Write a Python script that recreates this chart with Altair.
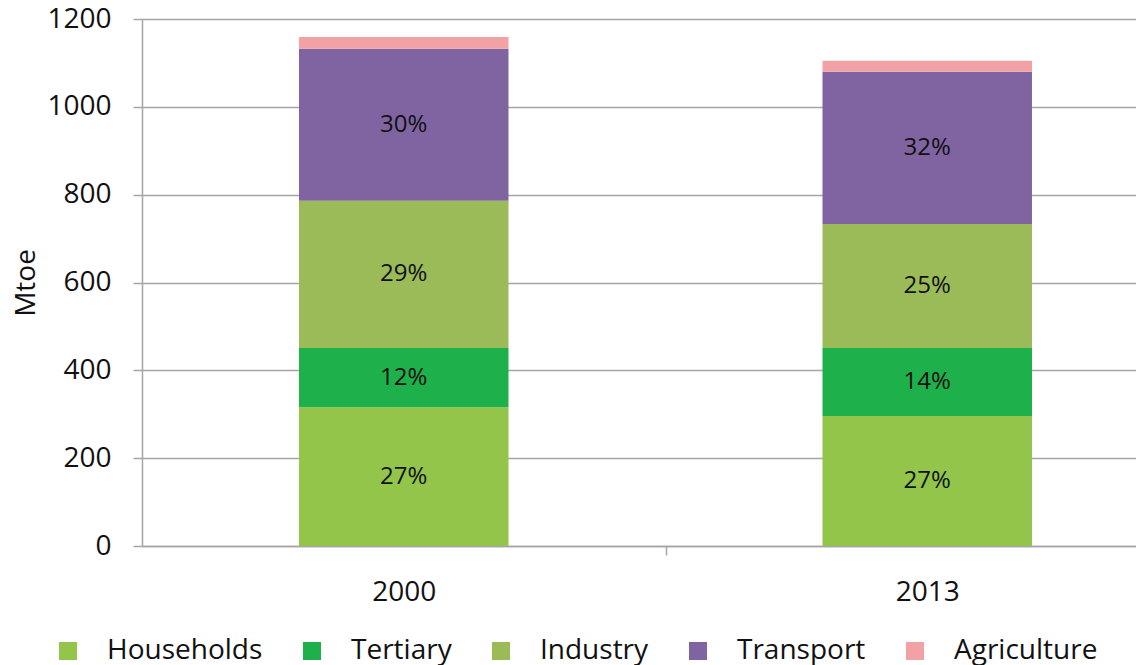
import altair as alt
import pandas as pd

years = ["2000", "2013"]
sectors = ["Households", "Tertiary", "Industry", "Transport", "Agriculture"]
households = [316, 296]
tertiary = [135, 155]
industry = [335, 282]
transport = [346, 347]
agriculture = [27, 25]
share_2000 = ["27%", "12%", "29%", "30%", ""]
share_2013 = ["27%", "14%", "25%", "32%", ""]
colors = ["#92C54A", "#1DB04B", "#9BBB59", "#8064A2", "#F2A1A5"]
y_ticks = [0, 200, 400, 600, 800, 1000, 1200]

series = [households, tertiary, industry, transport, agriculture]
shares = {"2000": share_2000, "2013": share_2013}
rows = []
for i, s in enumerate(sectors):
    for j, yr in enumerate(years):
        rows.append({"year": yr, "sector": s, "order": i,
                     "value": series[i][j], "share": shares[yr][i]})
df = pd.DataFrame(rows)

GRAY = "#A8A4A4"
TXT = "#111111"
FONT = "Open Sans"

base = alt.Chart(df).transform_stack(
    stack="value", groupby=["year"],
    sort=[alt.SortField("order", order="ascending")],
    as_=["v0", "v1"],
).transform_calculate(mid="(datum.v0 + datum.v1) / 2")

xenc = alt.X(
    "year:N", title=None, sort=years,
    scale=alt.Scale(paddingInner=0.5998, paddingOuter=0.2493, align=0.6015),
    axis=alt.Axis(labelFontSize=28, labelColor=TXT, labelAngle=0,
                  tickOffset=262, labelOffset=-262, tickSize=9,
                  tickColor=GRAY, tickWidth=1.5, domainColor=GRAY,
                  domainWidth=1.5, labelPadding=23, grid=False),
)

bars = base.mark_bar().encode(
    x=xenc,
    y=alt.Y("v0:Q", scale=alt.Scale(domain=[0, 1200]),
            axis=alt.Axis(values=y_ticks, format="d", title="Mtoe",
                          labelFontSize=28, labelColor=TXT, tickSize=9,
                          tickColor=GRAY, tickWidth=1.5, domainColor=GRAY,
                          domainWidth=1.5, gridColor=GRAY, gridWidth=1.5,
                          labelPadding=22, titleFontSize=28,
                          titleFontWeight="normal", titleColor=TXT,
                          titlePadding=6)),
    y2="v1:Q",
    color=alt.Color("sector:N", scale=alt.Scale(domain=sectors, range=colors),
                    legend=alt.Legend(orient="none", legendX=-88, legendY=618,
                                      direction="horizontal", title=None,
                                      symbolType="square", symbolSize=324,
                                      symbolStrokeWidth=0, symbolOpacity=1,
                                      labelFontSize=28, labelColor=TXT,
                                      labelOffset=25, columnPadding=35,
                                      labelLimit=400, padding=0)),
)

labels = base.transform_filter("datum.share != ''").mark_text(
    fontSize=24, color=TXT, font=FONT
).encode(
    x=alt.X("year:N", sort=years),
    y=alt.Y("mid:Q"),
    text="share:N",
)

chart = alt.layer(bars, labels).properties(
    width=994, height=527,
    padding={"left": 134, "top": 11, "right": 0, "bottom": 119},
    autosize=alt.AutoSizeParams(type="none"),
    background="white",
).configure(font=FONT).configure_view(stroke=None)

chart.save("out.html", embed_options={"renderer": "svg", "actions": False})
